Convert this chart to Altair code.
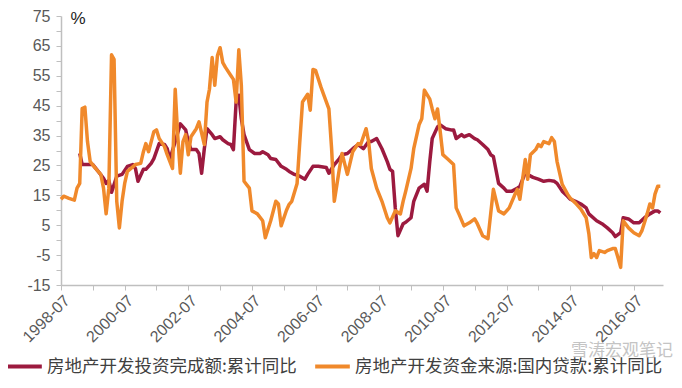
import altair as alt
import pandas as pd

S1 = "房地产开发投资完成额:累计同比"
S2 = "房地产开发资金来源:国内贷款:累计同比"
RED = "#9C1A3F"
ORANGE = "#F0892B"

inv_dates = ["1999-02","1999-03","1999-05","1999-07","1999-09","1999-11","1999-12","2000-01","2000-02","2000-04",
 "2000-06","2000-08","2000-10","2000-11","2000-12","2001-02","2001-03","2001-05","2001-06","2001-08",
 "2001-10","2001-11","2001-12","2002-02","2002-04","2002-06","2002-07","2002-08","2002-10","2002-11",
 "2002-12","2003-01","2003-02","2003-04","2003-05","2003-07","2003-08","2003-10","2003-11","2003-12",
 "2004-01","2004-02","2004-03","2004-04","2004-06","2004-08","2004-10","2004-11","2005-01","2005-02",
 "2005-04","2005-06","2005-08","2005-09","2005-11","2006-01","2006-03","2006-04","2006-06","2006-08",
 "2006-11","2006-12","2007-02","2007-04","2007-05","2007-07","2007-09","2007-11","2008-01","2008-03",
 "2008-04","2008-06","2008-08","2008-10","2008-11","2008-12","2009-01","2009-02","2009-04","2009-05",
 "2009-07","2009-08","2009-10","2009-12","2010-01","2010-02","2010-03","2010-05","2010-06","2010-08",
 "2010-10","2010-11","2010-12","2011-02","2011-03","2011-05","2011-07","2011-08","2011-10","2011-12",
 "2012-01","2012-02","2012-04","2012-06","2012-07","2012-09","2012-11","2012-12","2013-02","2013-03",
 "2013-05","2013-07","2013-09","2013-11","2014-01","2014-02","2014-04","2014-06","2014-07","2014-09",
 "2014-11","2015-01","2015-02","2015-05","2015-07","2015-09","2015-11","2015-12","2016-02","2016-03",
 "2016-05","2016-07","2016-09","2016-11","2017-01","2017-03","2017-04","2017-05"]
inv_values = [29.0,25.3,25.3,25.3,23.0,20.7,19.0,20.0,16.0,21.4,
 22.0,24.7,25.3,24.0,19.7,23.7,23.7,25.7,27.3,32.3,
 32.0,30.6,27.0,33.0,38.9,36.9,33.0,30.3,30.3,29.0,
 22.4,30.6,37.3,35.3,34.0,34.6,33.6,32.3,32.0,30.3,
 46.2,48.5,40.6,35.3,30.3,29.0,29.0,29.6,28.6,27.3,
 27.0,24.7,23.7,23.0,22.0,21.4,20.4,22.0,24.7,24.7,
 24.3,22.4,25.3,27.3,28.6,29.0,30.6,32.0,30.6,33.0,
 33.0,34.0,30.6,26.3,23.7,23.0,10.8,1.5,5.5,6.0,
 7.5,13.0,17.4,18.7,16.4,26.3,34.0,37.9,38.6,37.3,
 36.9,36.9,34.0,35.3,34.6,35.3,34.0,33.6,32.0,30.3,
 28.6,28.0,19.0,17.4,16.4,16.4,17.4,18.0,22.5,22.0,
 21.0,20.4,19.7,20.0,19.7,19.0,16.4,14.7,13.7,13.0,
 12.1,10.8,8.8,6.5,5.5,4.1,2.5,1.2,2.5,7.5,
 7.1,5.8,5.8,7.5,8.8,9.8,9.8,9.1]

loan_dates = ["1998-07","1998-08","1998-10","1998-12","1999-01","1999-02","1999-03","1999-04","1999-05","1999-06",
 "1999-08","1999-10","1999-11","1999-12","2000-01","2000-02","2000-03","2000-04","2000-05","2000-06",
 "2000-07","2000-08","2000-11","2001-01","2001-02","2001-03","2001-04","2001-06","2001-07","2001-08",
 "2001-10","2001-11","2002-01","2002-02","2002-03","2002-04","2002-05","2002-06","2002-07","2002-08",
 "2002-10","2002-11","2003-01","2003-02","2003-03","2003-04","2003-05","2003-06","2003-07","2003-08",
 "2003-09","2003-11","2003-12","2004-01","2004-02","2004-03","2004-04","2004-06","2004-07","2004-09",
 "2004-11","2004-12","2005-02","2005-04","2005-05","2005-06","2005-08","2005-09","2005-10","2005-12",
 "2006-01","2006-02","2006-04","2006-05","2006-06","2006-07","2006-09","2006-10","2006-12","2007-01",
 "2007-02","2007-04","2007-05","2007-07","2007-09","2007-11","2007-12","2008-02","2008-03","2008-04",
 "2008-06","2008-08","2008-10","2008-11","2009-01","2009-03","2009-04","2009-05","2009-07","2009-08",
 "2009-10","2009-11","2009-12","2010-02","2010-03","2010-04","2010-05","2010-06","2010-07","2010-09",
 "2010-11","2010-12","2011-01","2011-03","2011-05","2011-07","2011-08","2011-10","2011-12","2012-01",
 "2012-02","2012-04","2012-06","2012-08","2012-10","2012-11","2012-12","2013-02","2013-03","2013-04",
 "2013-06","2013-07","2013-08","2013-09","2013-11","2013-12","2014-01","2014-02","2014-04","2014-06",
 "2014-07","2014-09","2014-11","2015-01","2015-02","2015-03","2015-04","2015-05","2015-06","2015-08",
 "2015-09","2015-11","2015-12","2016-01","2016-02","2016-03","2016-05","2016-07","2016-09","2016-10",
 "2016-12","2017-01","2017-02","2017-03","2017-04","2017-05"]
loan_values = [13.7,14.7,14.0,13.4,17.4,19.0,44.0,44.5,33.0,26.3,
 24.0,22.0,17.4,8.8,17.4,62.0,60.5,13.0,4.1,13.0,
 19.0,23.0,25.3,25.7,29.6,32.3,29.6,36.3,36.9,34.0,
 31.3,28.6,24.0,50.5,35.3,22.4,33.0,35.3,28.6,34.6,
 37.3,39.6,32.0,46.2,50.5,61.1,51.8,61.8,64.4,59.4,
 57.8,55.1,53.8,46.2,63.7,51.8,19.7,17.4,9.8,8.8,
 6.5,0.8,6.5,13.0,12.1,4.8,10.0,12.0,13.0,19.0,
 33.0,46.2,48.8,43.5,57.1,56.8,51.2,48.8,43.9,30.6,
 13.0,24.0,29.0,22.0,29.6,32.3,32.0,37.3,33.0,24.0,
 17.4,13.0,7.5,5.8,9.8,8.8,13.0,16.4,24.0,30.6,
 38.6,40.6,50.2,47.2,43.9,40.6,43.9,36.3,28.6,27.0,
 25.3,10.8,8.8,4.8,5.8,7.1,5.5,1.5,0.5,8.8,
 17.0,9.8,8.8,10.8,15.0,17.0,13.7,27.0,20.4,28.6,
 30.3,32.0,31.3,33.0,32.3,34.3,33.0,26.3,18.7,15.4,
 14.1,12.4,10.4,7.5,2.2,-5.8,-4.5,-5.8,-3.5,-4.1,
 -3.5,-2.8,-2.8,-5.8,-9.1,6.5,4.1,2.5,1.5,3.1,
 8.8,12.1,10.8,15.4,18.0,18.0]

y_ticks = list(range(-15, 80, 5))
x_tick_years = list(range(1998, 2017))

df = pd.concat([
    pd.DataFrame({"date": [d + "-01T00:00:00" for d in inv_dates], "value": inv_values, "series": S1}),
    pd.DataFrame({"date": [d + "-01T00:00:00" for d in loan_dates], "value": loan_values, "series": S2}),
], ignore_index=True)

lines = alt.Chart(df).mark_line(strokeWidth=3.5, strokeJoin="round").encode(
    x=alt.X("date:T",
            scale=alt.Scale(domain=[alt.DateTime(year=1998, month=7, date=1),
                                    alt.DateTime(year=2017, month=6, date=1)], nice=False),
            axis=alt.Axis(title=None,
                          values=[alt.DateTime(year=y, month=7, date=1) for y in x_tick_years],
                          labelExpr="year(datum.value) % 2 == 0 ? timeFormat(datum.value, '%Y-%m') : ''",
                          labelAngle=-45, labelAlign="right", labelBaseline="top",
                          labelPadding=2, labelFontSize=16, labelFont="Liberation Sans",
                          labelColor="#595959", tickSize=5, tickColor="#bfbfbf",
                          domainColor="#bfbfbf", domainWidth=1.5, grid=False, labelOverlap=False)),
    y=alt.Y("value:Q",
            scale=alt.Scale(domain=[-15, 75], nice=False, zero=False),
            axis=alt.Axis(title="%", titleAngle=0, titleX=9, titleY=2, titleAlign="left",
                          titleBaseline="middle", titleFontSize=17, titleFontWeight="normal",
                          titleColor="#222222", titleFont="Liberation Sans",
                          values=y_ticks,
                          labelExpr="(datum.value + 15) % 10 == 0 ? '' + datum.value : ''",
                          labelFontSize=16, labelFont="Liberation Sans", labelColor="#595959",
                          labelPadding=6, tickSize=5, tickColor="#bfbfbf",
                          domainColor="#bfbfbf", domainWidth=1.5, grid=False, labelOverlap=False)),
    color=alt.Color("series:N",
                    scale=alt.Scale(domain=[S1, S2], range=[RED, ORANGE]),
                    legend=alt.Legend(title=None, orient="none", legendX=-56, legendY=331,
                                      direction="horizontal", symbolType="stroke",
                                      symbolSize=1200, symbolStrokeWidth=4,
                                      labelFont="Noto Sans CJK SC", labelFontSize=17.5,
                                      labelColor="#404040", labelOffset=3, columnPadding=10,
                                      labelLimit=400)),
)

wm = alt.Chart(pd.DataFrame({"t": ["雪涛宏观笔记"]})).mark_text(
    font="Noto Sans CJK SC", fontSize=17, color="#c4c4c4", align="left", baseline="middle"
).encode(x=alt.value(510), y=alt.value(335), text="t:N")

chart = alt.layer(lines, wm).properties(
    width=602, height=269,
    autosize=alt.AutoSizeParams(type="none"),
    padding={"left": 53, "top": 8, "right": 10, "bottom": 94},
).configure_view(stroke=None)

chart.save("out.html", embed_options={"renderer": "svg", "actions": False})
